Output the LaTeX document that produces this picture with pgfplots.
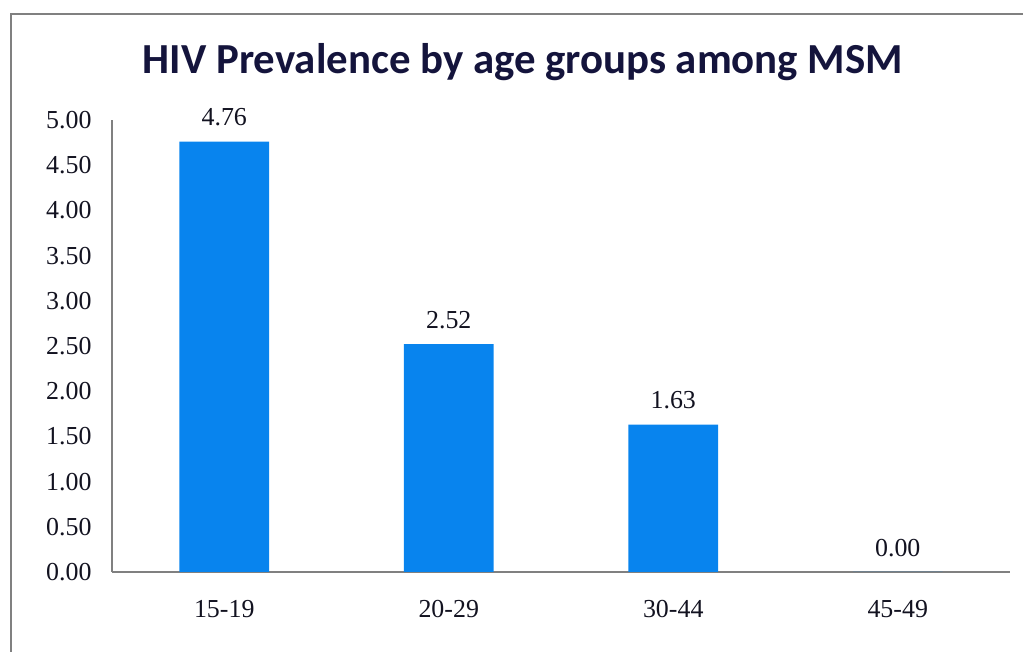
\documentclass[border=0pt]{standalone}
\usepackage{pgfplots}
\pgfplotsset{compat=1.18}
\usepackage{fontspec}
\setmainfont{Liberation Serif}
\newfontfamily\titlefont{Carlito}
\definecolor{barblue}{RGB}{8,132,238}
\definecolor{txt}{RGB}{18,18,32}
\definecolor{navy}{RGB}{20,20,60}
\definecolor{axgray}{RGB}{128,128,128}
\begin{document}
\begin{tikzpicture}
\path[use as bounding box] (0,0) rectangle (1023bp,652bp);
\draw[axgray,line width=1.5bp] (11bp,0) -- (11bp,638bp) -- (1023bp,638bp);
\node[font=\titlefont\bfseries\fontsize{43}{48}\selectfont, text=navy] at (523bp,590bp) {HIV Prevalence by age groups among MSM};
\begin{axis}[
  at={(112bp,80bp)}, anchor=south west,
  width=898bp, height=452bp, scale only axis=true,
  xmin=-0.5, xmax=3.5, ymin=0, ymax=5,
  axis lines*=left,
  axis line style={axgray, line width=1.2bp, -},
  ytick={0,0.5,1,1.5,2,2.5,3,3.5,4,4.5,5},
  yticklabels={0.00,0.50,1.00,1.50,2.00,2.50,3.00,3.50,4.00,4.50,5.00},
  xtick={0,1,2,3},
  xticklabels={15-19,20-29,30-44,45-49},
  major tick length=0pt,
  /pgf/number format/assume math mode=true,
  ticklabel style={font=\fontsize{26}{30}\selectfont, text=txt},
  xticklabel style={yshift=-25bp},
  yticklabel style={xshift=-17bp},
  ybar, bar width=0.4,
  nodes near coords,
  nodes near coords style={font=\fontsize{26}{30}\selectfont, text=txt, yshift=12bp, /pgf/number format/fixed, /pgf/number format/fixed zerofill, /pgf/number format/precision=2},
]
\addplot[fill=barblue, draw=none] coordinates {(0,4.76) (1,2.52) (2,1.63) (3,0.00)};
\end{axis}
\end{tikzpicture}
\end{document}
